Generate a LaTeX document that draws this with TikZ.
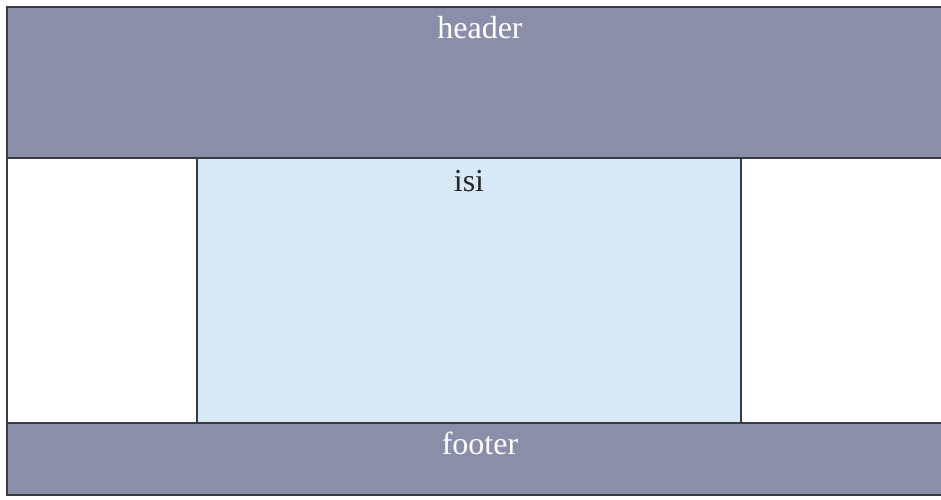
\documentclass[tikz,border=0pt]{standalone}
\usepackage{fontspec}
\setmainfont{Liberation Serif}
\definecolor{bandgray}{HTML}{8A8EA8}
\definecolor{contentblue}{HTML}{D7E8F7}
\definecolor{edgegray}{HTML}{3A3A44}
\tikzset{
  band/.style={fill=bandgray, draw=edgegray, line width=1.5pt},
  contentbox/.style={fill=contentblue, draw=edgegray, line width=1.5pt},
  bandlabel/.style={text=white, font=\fontsize{32}{34}\selectfont, inner sep=0pt, anchor=base},
  contentlabel/.style={text=black!85, font=\fontsize{32}{34}\selectfont, inner sep=0pt, anchor=base}
}
\begin{document}
\begin{tikzpicture}[x=1pt,y=-1pt]
\useasboundingbox (0,0) rectangle (941,499);
\fill[white] (0,0) rectangle (941,499);
% middle white area with outer border
\draw[draw=edgegray, line width=1.5pt, fill=white] (7,158) rectangle (955,423);
% header
\draw[band] (7,7) rectangle (955,158);
% content
\draw[contentbox] (197,158) rectangle (741,423);
% footer
\draw[band] (7,423) rectangle (955,495);
\node[bandlabel] (header) at (480,38) {header};
\node[contentlabel] (isi) at (469,191) {isi};
\node[bandlabel] (footer) at (480,454) {footer};
\end{tikzpicture}
\end{document}
